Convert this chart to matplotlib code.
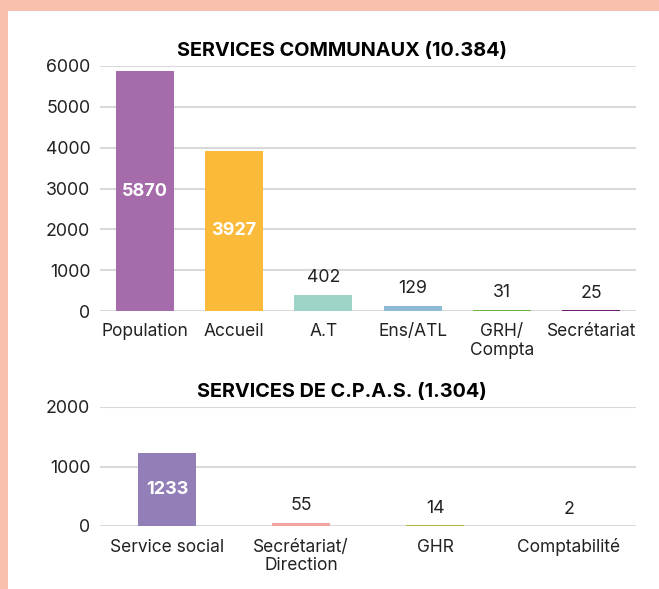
import matplotlib.pyplot as plt
from matplotlib.patches import Rectangle

plt.rcParams['font.family'] = ['Inter', 'DejaVu Sans']

# Services communaux
com_labels = ['Population', 'Accueil', 'A.T', 'Ens/ATL', 'GRH/\nCompta', 'Secrétariat']
com_values = [5870, 3927, 402, 129, 31, 25]
com_colors = ['#A66BAA', '#FBBA3A', '#9ED4C8', '#8DBAD4', '#6DB33F', '#6B1E74']

# Services de C.P.A.S.
cpas_labels = ['Service social', 'Secrétariat/\nDirection', 'GHR', 'Comptabilité']
cpas_values = [1233, 55, 14, 2]
cpas_colors = ['#927FB8', '#F2A3A3', '#B5B53A', '#F5E82C']

fig = plt.figure(figsize=(6.59, 5.89), dpi=100)
fig.patch.set_facecolor('#F9C0AE')
# white panel inside the salmon frame
fig.add_artist(Rectangle((8 / 659, 0), 1, 1 - 11 / 589, transform=fig.transFigure,
                         facecolor='white', edgecolor='none', zorder=-10))


def draw(ax, labels, values, colors, width, ymax, step, title, inside):
    x = range(len(labels))
    ax.bar(x, values, width=width, color=colors, zorder=3)
    ax.set_xlim(-0.5, len(labels) - 0.5)
    ax.set_ylim(0, ymax)
    ax.set_yticks(range(0, ymax + 1, step))
    ax.set_xticks(list(x))
    ax.set_xticklabels(labels, fontsize=12.5, color='#222222', linespacing=1.1)
    ax.tick_params(axis='y', labelsize=12.8, labelcolor='#222222', length=0, pad=7)
    ax.tick_params(axis='x', length=0, pad=9)
    ax.grid(axis='y', color='#D9D9D9', linewidth=1.5, zorder=0)
    for s in ax.spines.values():
        s.set_visible(False)
    ax.set_facecolor('none')
    # title is centred a bit left of the plot area
    ax.set_title(title, fontsize=14.3, fontweight='bold', pad=7, x=(342 - 100) / 536)
    for i, v in enumerate(values):
        if v in inside:
            ax.text(i, v / 2, str(v), ha='center', va='center', color='white',
                    fontsize=13, fontweight='bold', zorder=4)
        else:
            ax.annotate(str(v), (i, v), xytext=(0, 6), textcoords='offset points',
                        ha='center', va='bottom', fontsize=12.8, color='#222222')


ax1 = fig.add_axes([100 / 659, 1 - 311 / 589, 536 / 659, 245 / 589])
draw(ax1, com_labels, com_values, com_colors, 0.65, 6000, 1000,
     'SERVICES COMMUNAUX (10.384)', [5870, 3927])

ax2 = fig.add_axes([100 / 659, 1 - 526 / 589, 536 / 659, 119 / 589])
draw(ax2, cpas_labels, cpas_values, cpas_colors, 0.43, 2000, 1000,
     'SERVICES DE C.P.A.S. (1.304)', [1233])

fig.savefig('out.png', dpi=100, facecolor=fig.get_facecolor())
